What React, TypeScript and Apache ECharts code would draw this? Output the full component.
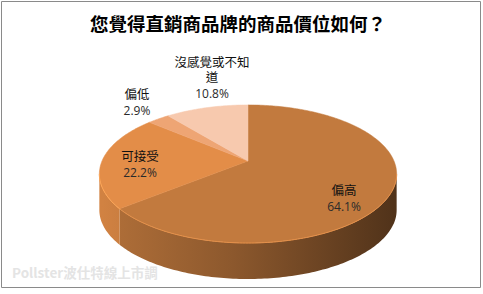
import React, { useEffect, useRef } from "react";
import * as echarts from "echarts";

const title = "您覺得直銷商品牌的商品價位如何？";
const categories = ["偏高", "可接受", "偏低", "沒感覺或不知道"];
const values = [64.1, 22.2, 2.9, 10.8];
const watermark = "Pollster波仕特線上市調";

// layout / style (not data)
const topColors = ["#C27A3E", "#E38D48", "#EEA574", "#F7C9AE"];
const labelPos = [
  [344, 189],
  [140, 155],
  [137, 93],
  [212, 61],
];
const CX = 248,
  CY = 161,
  RA = 146,
  RB = 66.6,
  PERSP = 0.188,
  DEPTH = 36;

function proj(t: number, r = 1): [number, number] {
  const s = 1 / (1 + PERSP * r * Math.cos(t));
  return [CX + RA * r * Math.sin(t) * s, CY - RB * r * Math.cos(t) * s];
}

function shade(hex: string, f: number): string {
  const n = parseInt(hex.slice(1), 16);
  const r = Math.round(((n >> 16) & 255) * f);
  const g = Math.round(((n >> 8) & 255) * f);
  const b = Math.round((n & 255) * f);
  return `rgb(${Math.min(255, r)},${Math.min(255, g)},${Math.min(255, b)})`;
}

function arc(t0: number, t1: number): [number, number][] {
  const pts: [number, number][] = [];
  const steps = Math.max(2, Math.ceil(((t1 - t0) * 180) / Math.PI));
  for (let k = 0; k <= steps; k++) pts.push(proj(t0 + ((t1 - t0) * k) / steps));
  return pts;
}

export default function App() {
  const ref = useRef<HTMLDivElement>(null);
  useEffect(() => {
    if (!ref.current) return;
    const chart = echarts.init(ref.current, undefined, { renderer: "svg" });
    const total = values.reduce((a, b) => a + b, 0);
    const tR = Math.acos(-PERSP);
    const tL = 2 * Math.PI - tR;

    const renderItem = (params: any, api: any) => {
      const i = params.dataIndex;
      let cum = 0;
      for (let k = 0; k < i; k++) cum += values[k];
      const v = api.value(0);
      const t0 = (2 * Math.PI * cum) / total;
      const t1 = (2 * Math.PI * (cum + v)) / total;
      const children: any[] = [];
      const col = topColors[i];
      // side
      const a = Math.max(t0, tR);
      const b = Math.min(t1, tL);
      if (b > a) {
        const upper = arc(a, b);
        const lower = upper.map(([x, y]) => [x, y + DEPTH] as [number, number]).reverse();
        children.push({
          type: "polygon",
          shape: { points: upper.concat(lower) },
          style: {
            fill: new echarts.graphic.LinearGradient(
              CX - RA,
              0,
              CX + RA,
              0,
              [
                { offset: 0, color: shade(col, 0.92) },
                { offset: 0.45, color: shade(col, 0.72) },
                { offset: 1, color: shade(col, 0.42) },
              ],
              true
            ),
          },
          z2: 1,
        });
        children.push({
          type: "polyline",
          shape: { points: upper },
          style: { stroke: shade(col, 1.18), lineWidth: 1, fill: "none" },
          z2: 3,
        });
      }
      // top
      const topPts = [[CX, CY] as [number, number]].concat(arc(t0, t1));
      children.push({
        type: "polygon",
        shape: { points: topPts },
        style: { fill: col, stroke: col, lineWidth: 0.5 },
        z2: 2,
      });
      // labels
      const name = categories[i];
      const disp = name.length > 6 ? name.slice(0, 6) + "\n" + name.slice(6) : name;
      const nLines = disp.split("\n").length;
      const [lx, ly] = labelPos[i];
      const LH = 15.5;
      children.push({
        type: "text",
        x: lx,
        y: ly - LH / 2,
        style: {
          text: disp,
          fontSize: 12.5,
          lineHeight: LH,
          fontFamily: "Noto Sans CJK TC",
          fill: "#111",
          align: "center",
          verticalAlign: "top",
        },
        z2: 10,
      });
      children.push({
        type: "text",
        x: lx,
        y: ly + LH * (nLines - 1) + 17,
        style: {
          text: v.toFixed(1) + "%",
          fontSize: 12,
          lineHeight: 12,
          fontFamily: "Open Sans",
          fill: "#2a2a2a",
          align: "center",
          verticalAlign: "middle",
        },
        z2: 10,
      });
      return { type: "group", children };
    };

    chart.setOption({
      animation: false,
      backgroundColor: "#ffffff",
      graphic: [
        {
          type: "rect",
          shape: { x: 1.5, y: 1.5, width: 479, height: 286 },
          style: { fill: "none", stroke: "#8a8a8a", lineWidth: 1 },
          z: 0,
        },
        {
          type: "text",
          x: 238,
          y: 23,
          style: {
            text: title,
            fontSize: 18.5,
            fontWeight: "bold",
            fontFamily: "Noto Sans CJK TC",
            fill: "#000",
            align: "center",
            verticalAlign: "middle",
          },
        },
        {
          type: "text",
          x: 12,
          y: 272,
          style: {
            text: watermark,
            fontSize: 13.5,
            fontWeight: "bold",
            fontFamily: "Noto Sans CJK TC",
            fill: "#e4e4e4",
            align: "left",
            verticalAlign: "middle",
          },
        },
      ],
      series: [
        {
          type: "custom",
          coordinateSystem: "none",
          data: values.map((v, i) => [v, i]),
          renderItem,
          silent: true,
        },
      ],
    });
    return () => chart.dispose();
  }, []);
  return (
    <div
      ref={ref}
      style={{ position: "fixed", left: 0, top: 0, width: 483, height: 294, background: "#fff" }}
    />
  );
}
